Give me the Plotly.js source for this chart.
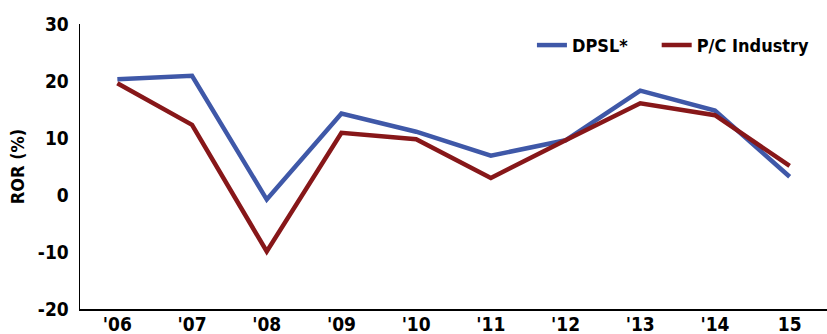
<!DOCTYPE html>
<html><head><meta charset="utf-8">
<script src="https://cdn.plot.ly/plotly-3.0.1.min.js"></script>
<style>body{margin:0;padding:0;background:#fff}#chart{width:827px;height:334px}</style>
</head><body><div id="chart"></div>
<script>
const years = ["'06","'07","'08","'09","'10","'11","'12","'13","'14","15"];
const dpsl = [20.3, 20.9, -0.8, 14.3, 11.1, 6.9, 9.6, 18.3, 14.8, 3.2];
const pcIndustry = [19.6, 12.3, -9.9, 10.9, 9.8, 3.0, 9.6, 16.1, 14.0, 5.1];
const yTicks = [-20, -10, 0, 10, 20, 30];
const yTickText = ["-20", "-10", "0", "10", "20", "30"];

const font = "'DejaVu Sans Condensed', 'Liberation Sans Narrow', sans-serif";
const legendFont = {size: 18, family: font, color: '#000', weight: 'bold'};
const traces = [
  {x: years, y: dpsl, name: 'DPSL*', type: 'scatter', mode: 'lines', legend: 'legend',
   line: {color: '#3F58A8', width: 4.5}},
  {x: years, y: pcIndustry, name: 'P/C Industry', type: 'scatter', mode: 'lines', legend: 'legend2',
   line: {color: '#871719', width: 4.5}}
];
const layout = {
  width: 827, height: 334,
  margin: {l: 80, r: 0, t: 24, b: 25},
  paper_bgcolor: '#fff', plot_bgcolor: '#fff',
  font: {family: font, color: '#000', size: 19, weight: 'bold'},
  showlegend: true,
  legend: {orientation: 'h', x: 0.605, y: 0.925, xanchor: 'left', yanchor: 'middle',
    font: legendFont, bgcolor: 'rgba(0,0,0,0)'},
  legend2: {orientation: 'h', x: 0.772, y: 0.925, xanchor: 'left', yanchor: 'middle',
    font: legendFont, bgcolor: 'rgba(0,0,0,0)'},
  xaxis: {type: 'category', range: [-0.5, 9.5], showline: true, linecolor: '#000', linewidth: 1.5,
    showgrid: false, zeroline: false, ticks: '', ticklabelstandoff: -2,
    tickfont: {size: 19, family: font, weight: 'bold'}, fixedrange: true},
  yaxis: {range: [-20, 30], tickvals: yTicks, ticktext: yTickText, showline: true, linecolor: '#000', linewidth: 1.5,
    showgrid: false, zeroline: false, ticks: '', ticklabelstandoff: 6,
    tickfont: {size: 19, family: font, weight: 'bold'},
    title: {text: 'ROR (%)', font: {size: 18, family: font, weight: 'bold'}, standoff: 8}}
};
Plotly.newPlot('chart', traces, layout, {staticPlot: true, displayModeBar: false});
</script></body></html>
